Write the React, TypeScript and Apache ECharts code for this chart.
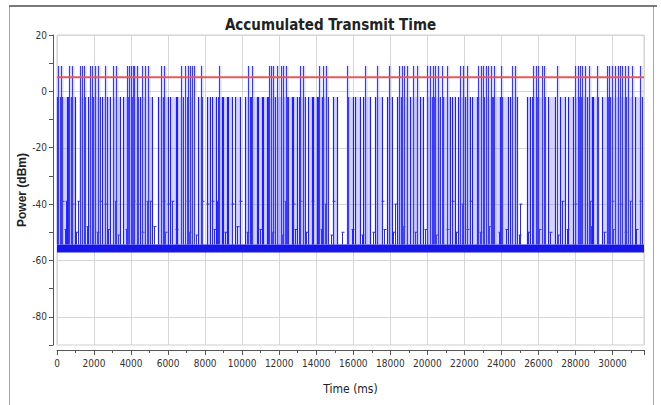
import React, { useEffect, useRef } from 'react';
import * as echarts from 'echarts';

const TITLE = 'Accumulated Transmit Time';
const X_NAME = 'Time (ms)';
const Y_NAME = 'Power (dBm)';
const X_MIN = 0;
const X_MAX = 31700;
const X_STEP = 2000;
const Y_MIN = -90;
const Y_MAX = 20;
const Y_STEP = 10;
const yGridLines = [20, 0, -20, -40, -60, -80];
const thresholdLevel = 5;
const noiseFloor = [-57.2, -54.3];
const tallPeak = 9;
const blockTop = -2;

// bursts reaching ~9 dBm (time in ms)
const tallSpikes = [
  36, 216, 648, 792, 1242, 1332, 1476, 1782, 1908, 2052, 2232, 2592, 3042, 3168,
  3762, 3888, 3996, 4086, 4176, 4302, 4608, 4752, 4896, 5616, 5796, 6696, 6912,
  7056, 7182, 7308, 7416, 7776, 8748, 10296, 10512,
  11466, 11538, 11682, 11898, 12078, 12222, 12366, 13122, 13266, 14166, 14346,
  14526, 15678, 16632, 17262, 17946, 18486, 18612, 18738, 18882, 19242, 19422,
  19998, 20142, 20286, 20412, 20592, 20772, 21042,
  21762, 21942, 22122, 22752, 22896, 23022, 23148, 23292, 23436, 23616, 23976,
  24552, 24732, 25722, 25848, 25992, 26172, 26316, 26982, 27972, 28116, 28242,
  28368, 28512, 28728, 29142, 29682, 29808, 29952, 30132, 30276, 30402, 30528,
  30672, 30816, 31032, 31482,
];

// bursts at ~-2 dBm: [start ms, end ms]
const blockStarts = [
  0, 250, 580, 820, 1240, 1690, 1960, 2410, 2680, 3040, 3580, 3850, 4120, 4480,
  4930, 5470, 5800, 6100, 6500, 7000, 7630, 8080, 8350, 8700, 8980, 9250, 9610,
  10150, 10480, 10872, 11106, 11412, 11862, 12200, 12492, 12726, 13086, 13572,
  13850, 14112, 14382, 14922, 15732, 16092, 16542, 17172, 17802, 18342, 18650,
  19062, 19602, 19962, 20350, 20862, 21312, 21672, 22032, 22392, 22752, 23150,
  23562, 24012, 24462, 25362, 25632, 25992, 26532, 27162, 27612, 27972, 28300,
  28602, 28962, 29412, 29862, 30402, 30750, 31212,
];
const blockEnds = [
  160, 520, 740, 970, 1510, 1870, 2320, 2590, 2860, 3400, 3760, 4030, 4390, 4750,
  5110, 5700, 6010, 6400, 6820, 7270, 7810, 8260, 8600, 8890, 9160, 9430, 9880,
  10420, 10782, 11052, 11322, 11772, 12100, 12402, 12672, 12942, 13392, 13750,
  14022, 14292, 14652, 15102, 16002, 16362, 16902, 17532, 18072, 18560, 18882,
  19422, 19782, 20250, 20682, 21222, 21492, 21942, 22302, 22662, 23050, 23472,
  23922, 24372, 24822, 25542, 25902, 26352, 26892, 27432, 27882, 28200, 28512,
  28872, 29232, 29772, 30312, 30650, 31032, 31600,
];

// mid-level bursts: [time ms, level dBm]
const midSpikes = [
  [270, -39], [486, -39], [810, -40], [1134, -39], [2322, -39], [2592, -40],
  [3132, -39], [4104, -39], [4320, -40], [4860, -39], [5022, -39], [5724, -39],
  [5994, -40], [6210, -39], [7020, -39], [7830, -39], [8100, -40], [8370, -39],
  [8640, -39], [9450, -40], [9882, -39], [12312, -39], [12744, -40], [13122, -39],
  [13770, -39], [14472, -40], [14904, -39], [17550, -39], [18252, -40],
  [21330, -39], [21870, -40], [22302, -39], [25002, -40], [27270, -39],
  [27972, -40], [28782, -39], [29970, -39], [30402, -40], [30942, -39], [31482, -39],
  [420, -49], [1050, -50], [1600, -48], [2150, -50], [2750, -49], [3300, -51],
  [3700, -49], [4600, -50], [5250, -48], [5850, -50], [6450, -49], [7150, -50],
  [7500, -51], [8500, -49], [9050, -50], [9700, -48], [10250, -50], [10950, -49],
  [11600, -50], [12150, -51], [12850, -49], [13450, -50], [14250, -49],
  [14800, -51], [15400, -50], [15950, -49], [16450, -51], [17050, -50],
  [17650, -49], [18150, -50], [18700, -48], [19350, -50], [19850, -49],
  [20450, -51], [21050, -49], [21550, -50], [22150, -49], [22850, -50],
  [23350, -48], [23850, -50], [24250, -49], [24950, -51], [25450, -50],
  [26050, -49], [26650, -50], [27050, -51], [27550, -49], [28250, -50],
  [28850, -48], [29550, -50], [30050, -49], [30650, -50], [31250, -49],
];

export default function App() {
  const ref = useRef<HTMLDivElement>(null);

  useEffect(() => {
    if (!ref.current) return;
    const chart = echarts.init(ref.current, undefined, { renderer: 'svg' });
    const font = '"Liberation Sans Narrow", "DejaVu Sans Condensed", "Liberation Sans", sans-serif';

    const blockData = blockStarts.map((s, i) => [s, blockEnds[i], blockTop]);
    const tallData = tallSpikes.map((t) => [t, tallPeak]);

    chart.setOption({
      animation: false,
      backgroundColor: '#ffffff',
      title: {
        text: TITLE,
        left: 'center',
        top: 17,
        padding: 0,
        textStyle: { fontFamily: font, fontWeight: 'bold', fontSize: 15, color: '#222' },
      },
      graphic: [
        { type: 'rect', shape: { x: 9.5, y: 6, width: 644, height: 420 }, style: { fill: 'none', stroke: '#a8a8a8', lineWidth: 1 }, z: 100 },
        { type: 'line', shape: { x1: 9, y1: 6, x2: 657, y2: 6 }, style: { stroke: '#7a7a7a', lineWidth: 2 }, z: 101 },
      ],
      grid: {
        left: 57,
        right: 17,
        top: 35,
        bottom: 60,
        show: true,
        borderColor: '#cfcfcf',
        borderWidth: 1,
        backgroundColor: '#ffffff',
      },
      xAxis: {
        type: 'value',
        min: X_MIN,
        max: X_MAX,
        interval: X_STEP,
        name: X_NAME,
        nameLocation: 'middle',
        nameGap: 33,
        nameMoveOverlap: false,
        nameTextStyle: { fontFamily: font, fontSize: 12, color: '#222' },
        axisLine: { show: true, onZero: false, lineStyle: { color: '#555', width: 1 } },
        offset: 5,
        axisTick: { show: true, length: 5, lineStyle: { color: '#555' } },
        minorTick: { show: true, splitNumber: 2, length: 3, lineStyle: { color: '#555' } },
        axisLabel: {
          fontFamily: font,
          fontSize: 10,
          color: '#333',
          margin: 8,
          showMaxLabel: false,
          formatter: (v: number) => String(v),
        },
        splitLine: { show: true, lineStyle: { color: '#d6d6d6', width: 1 } },
      },
      yAxis: {
        type: 'value',
        min: Y_MIN,
        max: Y_MAX,
        interval: Y_STEP,
        name: Y_NAME,
        nameLocation: 'middle',
        nameGap: 25,
        nameMoveOverlap: false,
        nameTextStyle: { fontFamily: '"Liberation Sans", Arial, sans-serif', fontWeight: 'bold', fontSize: 12, color: '#222' },
        axisLine: { show: true, onZero: false, lineStyle: { color: '#555', width: 1 } },
        offset: 4,
        axisTick: { show: true, length: 4, lineStyle: { color: '#555' } },
        axisLabel: {
          fontFamily: font,
          fontSize: 10,
          color: '#333',
          margin: 6,
          formatter: (v: number) => (v % 20 === 0 ? String(v) : ''),
        },
        splitLine: { show: false },
      },
      series: [
        {
          type: 'custom',
          name: 'grid',
          z: 1,
          silent: true,
          data: yGridLines.map((v) => [X_MIN, v]),
          encode: { x: 0, y: 1 },
          renderItem: (params: any, api: any) => {
            const cs = params.coordSys;
            const y = Math.round(api.coord([X_MIN, api.value(1)])[1]) + 0.5;
            return {
              type: 'line',
              shape: { x1: cs.x, y1: y, x2: cs.x + cs.width, y2: y },
              style: { stroke: '#d6d6d6', lineWidth: 1 },
            };
          },
        },
        {
          type: 'custom',
          name: 'floor',
          z: 2,
          silent: true,
          data: [[X_MIN, X_MAX, noiseFloor[0], noiseFloor[1]]],
          encode: { x: [0, 1], y: [2, 3] },
          renderItem: (params: any, api: any) => {
            const p0 = api.coord([api.value(0), api.value(2)]);
            const p1 = api.coord([api.value(1), api.value(3)]);
            return {
              type: 'rect',
              shape: { x: p0[0], y: p1[1], width: p1[0] - p0[0], height: p0[1] - p1[1] },
              style: { fill: '#1616e6' },
            };
          },
        },
        {
          type: 'custom',
          name: 'blocks',
          z: 3,
          silent: true,
          data: blockData,
          encode: { x: [0, 1], y: 2 },
          renderItem: (params: any, api: any) => {
            const p0 = api.coord([api.value(0), noiseFloor[1]]);
            const p1 = api.coord([api.value(1), api.value(2)]);
            const x0 = Math.round(p0[0]) + 0.5;
            const x1 = Math.max(Math.round(p1[0]) + 0.5, x0 + 1);
            return {
              type: 'group',
              children: [
                { type: 'rect', shape: { x: x0, y: p1[1], width: x1 - x0, height: p0[1] - p1[1] }, style: { fill: 'rgba(120,120,255,0.32)' } },
                { type: 'line', shape: { x1: x0, y1: p0[1], x2: x0, y2: p1[1] }, style: { stroke: '#2020ee', lineWidth: 1.2 } },
                { type: 'line', shape: { x1: x1, y1: p0[1], x2: x1, y2: p1[1] }, style: { stroke: '#2020ee', lineWidth: 1.2 } },
              ],
            };
          },
        },
        {
          type: 'custom',
          name: 'mid',
          z: 4,
          silent: true,
          data: midSpikes,
          encode: { x: 0, y: 1 },
          renderItem: (params: any, api: any) => {
            const p0 = api.coord([api.value(0), noiseFloor[1]]);
            const p1 = api.coord([api.value(0), api.value(1)]);
            const x = Math.round(p0[0]) + 0.5;
            return {
              type: 'group',
              children: [
                { type: 'line', shape: { x1: x, y1: p0[1], x2: x, y2: p1[1] }, style: { stroke: '#2a2af0', lineWidth: 1 } },
                { type: 'line', shape: { x1: x - 1, y1: p1[1], x2: x + 2, y2: p1[1] }, style: { stroke: '#2a2af0', lineWidth: 1 } },
              ],
            };
          },
        },
        {
          type: 'custom',
          name: 'tall',
          z: 5,
          silent: true,
          data: tallData,
          encode: { x: 0, y: 1 },
          renderItem: (params: any, api: any) => {
            const p0 = api.coord([api.value(0), noiseFloor[1]]);
            const p1 = api.coord([api.value(0), api.value(1)]);
            const x = Math.round(p0[0]) + 0.5;
            return {
              type: 'group',
              children: [
                { type: 'rect', shape: { x: x - 1, y: p1[1], width: 3, height: p0[1] - p1[1] }, style: { fill: 'rgba(130,130,255,0.3)' } },
                { type: 'line', shape: { x1: x, y1: p0[1], x2: x, y2: p1[1] }, style: { stroke: '#3a3aee', lineWidth: 1 } },
              ],
            };
          },
        },
        {
          type: 'line',
          name: 'threshold',
          z: 10,
          silent: true,
          symbol: 'none',
          data: [[X_MIN, thresholdLevel], [X_MAX, thresholdLevel]],
          lineStyle: { color: '#e65a5a', width: 2 },
        },
      ],
    });
    return () => chart.dispose();
  }, []);

  return <div ref={ref} style={{ position: 'fixed', left: 0, top: 0, width: 661, height: 405 }} />;
}
